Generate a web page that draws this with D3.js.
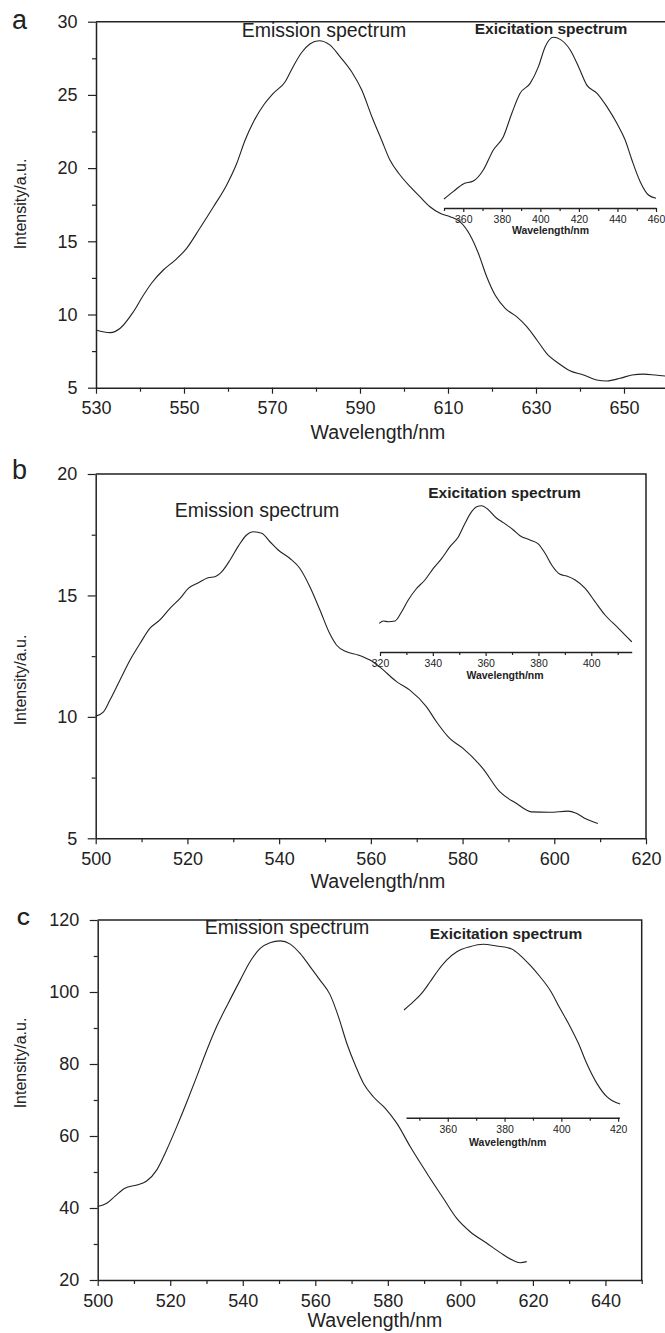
<!DOCTYPE html>
<html>
<head>
<meta charset="utf-8">
<script src="https://cdn.jsdelivr.net/npm/d3@7"></script>
<style>
  html, body { margin: 0; padding: 0; background: #fff; }
  svg { display: block; }
</style>
</head>
<body>
<script>
// Panel a: emission spectrum (nm, a.u.).
const emissionA_nm = [530, 533.2, 535.5, 538.5, 540.8, 542.7, 545.3, 548, 550.6, 553.6, 556.7, 559.7, 562, 563.9, 565.8, 568.1, 570.3, 573, 574.8, 576.7, 578.6, 580.7, 583.2, 585.5, 588.1, 590.4, 592.7, 594.9, 596.8, 599.1, 601.4, 603.6, 605.9, 608.2, 610.5, 612.7, 615, 616.9, 618.8, 620.7, 623, 625.6, 627.9, 630.2, 632.4, 635.1, 637.7, 640.8, 643.8, 646.1, 649.1, 651.8, 654.4, 657.1, 659.4];
const emissionA_int = [8.94, 8.76, 9.06, 10.19, 11.33, 12.17, 13.04, 13.72, 14.52, 15.89, 17.36, 18.85, 20.33, 21.92, 23.17, 24.31, 25.11, 25.9, 26.93, 27.88, 28.48, 28.7, 28.4, 27.6, 26.58, 25.33, 23.51, 21.92, 20.55, 19.53, 18.73, 18.05, 17.36, 16.91, 16.68, 16.34, 15.43, 14.18, 12.58, 11.33, 10.42, 9.85, 9.17, 8.26, 7.35, 6.67, 6.16, 5.87, 5.53, 5.46, 5.64, 5.87, 5.93, 5.87, 5.8];

// Panel a inset: excitation spectrum (nm, relative %).
const excitationA_nm = [350, 354.8, 360, 365.2, 370.4, 375.6, 380.8, 385.2, 389.5, 394.7, 399, 402.5, 406.8, 410.3, 415.5, 419.8, 424.1, 429.4, 434.5, 439.7, 444, 447.5, 451.8, 456.1, 460];
const excitationA_rel = [5.3, 9.6, 14.1, 15.8, 22.3, 34, 41.8, 55.5, 67.2, 73, 82.8, 94.5, 100, 98.8, 92.6, 82.8, 72, 67.2, 59.4, 49.6, 39.8, 28.1, 15.4, 7.6, 5.7];

// Panel b: emission spectrum.
const emissionB_nm = [500, 501.7, 503.1, 505.3, 507.5, 509.7, 511.8, 514, 516.2, 518.4, 520.2, 522.4, 524.5, 526, 527.5, 529.3, 531.1, 532.9, 534.3, 536.2, 538, 539.8, 542.3, 544.5, 546.7, 548.9, 551, 552.5, 554.7, 557.2, 559.8, 561.9, 565.6, 568.5, 572.1, 574.3, 577.2, 580.1, 584.4, 588.1, 591.7, 595, 599, 603, 604.8, 607, 609.5];
const emissionB_int = [10.03, 10.21, 10.69, 11.52, 12.34, 13.03, 13.64, 13.99, 14.47, 14.88, 15.29, 15.52, 15.73, 15.77, 15.98, 16.46, 17.03, 17.49, 17.62, 17.56, 17.21, 16.87, 16.53, 16.12, 15.36, 14.4, 13.44, 12.96, 12.68, 12.55, 12.34, 12.06, 11.45, 11.1, 10.42, 9.8, 9.11, 8.7, 7.88, 6.92, 6.44, 6.09, 6.07, 6.12, 6.03, 5.79, 5.61];

// Panel b inset: excitation spectrum.
const excitationB_nm = [319.7, 321.3, 323.1, 325.7, 328.2, 330.7, 333.6, 337, 340.2, 343.4, 346.5, 349.7, 352.2, 354.7, 356.6, 358.5, 360.4, 364.2, 366.7, 370.5, 373, 376.8, 380, 382.5, 385, 388.2, 390.7, 393.9, 397.7, 401.4, 405.2, 410.3, 415.3];
const excitationB_rel = [19.6, 21.2, 20.7, 21.2, 27.5, 35.5, 42.9, 49.2, 57.2, 64, 72, 78.8, 88, 95.9, 99.3, 100, 98.2, 91.4, 88.4, 83.4, 79.5, 76.6, 73.8, 67.5, 59.5, 53.1, 51.9, 49.2, 43.5, 34.4, 25.3, 16.2, 7];

// Panel c: emission spectrum.
const emissionC_nm = [500, 502.5, 504.8, 507.5, 510.8, 513.5, 516.3, 519, 521.8, 524.6, 527.3, 530.1, 532.8, 536, 539.3, 542, 544.8, 547.5, 550.3, 553.1, 555.8, 558.6, 561.3, 564.1, 566.4, 568.7, 571, 573.3, 576, 579.3, 582.5, 586.2, 590.8, 595.3, 599, 602.7, 607.3, 611, 614.2, 616.5, 618.3];
const emissionC_int = [40.4, 41.3, 43.3, 45.5, 46.4, 47.5, 50.6, 56.1, 62.6, 69.5, 76.5, 83.9, 90.4, 96.9, 103.3, 108.4, 112.1, 113.7, 114.2, 113.3, 110.7, 107, 103.3, 99.2, 93.1, 85.7, 79.7, 74.6, 70.9, 67.7, 63.5, 57, 49.6, 42.7, 37.1, 33.4, 30.2, 27.6, 25.6, 24.8, 25.1];

// Panel c inset: excitation spectrum.
const excitationC_nm = [344.6, 347.9, 350.8, 353.8, 356.7, 359.6, 363.2, 367.8, 372.5, 377.2, 382.5, 385.4, 388.9, 392.5, 396, 399.5, 403.1, 406, 408.9, 412.5, 416, 420.7];
const excitationC_rel = [62.1, 66.9, 71.7, 78.4, 85.2, 90.9, 95.7, 98.6, 100, 99, 97.3, 93.8, 88.1, 81.3, 73.6, 63.1, 52.5, 42.9, 31.4, 19.8, 12.1, 7.9];

// Tick values.
const ticksA_x = [530, 550, 570, 590, 610, 630, 650];
const minorA_x = [540, 560, 580, 600, 620, 640, 660];
const ticksA_y = [5, 10, 15, 20, 25, 30];
const minorA_y = [7.5, 12.5, 17.5, 22.5, 27.5];
const ticksA_inset = [360, 380, 400, 420, 440, 460];
const minorA_inset = [350, 370, 390, 410, 430, 450];

const ticksB_x = [500, 520, 540, 560, 580, 600, 620];
const minorB_x = [510, 530, 550, 570, 590, 610];
const ticksB_y = [5, 10, 15, 20];
const minorB_y = [7.5, 12.5, 17.5];
const ticksB_inset = [320, 340, 360, 380, 400];
const minorB_inset = [330, 350, 370, 390, 410];

const ticksC_x = [500, 520, 540, 560, 580, 600, 620, 640];
const minorC_x = [510, 530, 550, 570, 590, 610, 630, 650];
const ticksC_y = [20, 40, 60, 80, 100, 120];
const minorC_y = [30, 50, 70, 90, 110];
const ticksC_inset = [360, 380, 400, 420];
const minorC_inset = [350, 370, 390, 410];

const Font = "'Liberation Sans', Arial, Helvetica, sans-serif";
const Ink = "#222";

const svg = d3.select("body").append("svg")
    .attr("width", 665)
    .attr("height", 1333)
    .style("font-family", Font);

const line = d3.line().curve(d3.curveMonotoneX);

// Style an axis group: lines, domain, text.
const styleAxis = function (g, fontSize, weight) {
    g.select(".domain").attr("stroke", Ink).attr("stroke-width", 1.5);
    g.selectAll(".tick line").attr("stroke", Ink).attr("stroke-width", 1.2);
    g.selectAll(".tick text")
        .attr("fill", Ink)
        .style("font-family", Font)
        .style("font-size", fontSize + "px")
        .style("font-weight", weight || "normal");
};

const addText = function (txt, x, y, size, opts) {
    opts = opts || {};
    const t = svg.append("text")
        .attr("x", x).attr("y", y)
        .attr("fill", Ink)
        .attr("text-anchor", opts.anchor || "middle")
        .style("font-size", size + "px")
        .style("font-weight", opts.weight || "normal")
        .text(txt);
    if (opts.rotate) {
        t.attr("transform", `rotate(-90,${x},${y})`).attr("dy", "0.35em");
    }
    return t;
};

const drawPanel = function (p) {
    const x = d3.scaleLinear().domain(p.xDomain).range([p.left, p.right]);
    const y = d3.scaleLinear().domain(p.yDomain).range([p.bottom, p.top]);
    const g = svg.append("g");

    // Top and right frame.
    g.append("path")
        .attr("fill", "none")
        .attr("stroke", Ink)
        .attr("stroke-width", 1.5)
        .attr("d", `M${p.left},${p.top}H${p.right}V${p.bottom}`);

    // Minor ticks.
    g.append("g").attr("transform", `translate(0,${p.bottom})`)
        .call(d3.axisBottom(x).tickValues(p.xMinor).tickSize(4).tickFormat(""))
        .call(a => { a.select(".domain").remove(); styleAxis(a, 18); });
    g.append("g").attr("transform", `translate(${p.left},0)`)
        .call(d3.axisLeft(y).tickValues(p.yMinor).tickSize(4).tickFormat(""))
        .call(a => { a.select(".domain").remove(); styleAxis(a, 18); });

    // Major axes.
    g.append("g").attr("transform", `translate(0,${p.bottom})`)
        .call(d3.axisBottom(x).tickValues(p.xTicks).tickSize(6).tickSizeOuter(0).tickPadding(8))
        .call(a => styleAxis(a, 18));
    g.append("g").attr("transform", `translate(${p.left},0)`)
        .call(d3.axisLeft(y).tickValues(p.yTicks).tickSize(8).tickSizeOuter(0).tickPadding(10.5))
        .call(a => styleAxis(a, 18));

    // Emission curve.
    g.append("path")
        .attr("fill", "none")
        .attr("stroke", Ink)
        .attr("stroke-width", 1.1)
        .attr("d", line(p.nm.map((d, i) => [x(d), y(p.val[i])])));

    // Inset: excitation spectrum.
    const q = p.inset;
    const ix = d3.scaleLinear().domain(q.xDomain).range([q.left, q.right]);
    const iy = d3.scaleLinear().domain([0, 100]).range([q.axisY, q.peakY]);

    g.append("g").attr("transform", `translate(0,${q.axisY})`)
        .call(d3.axisBottom(ix).tickValues(q.minor).tickSize(3).tickFormat(""))
        .call(a => { a.select(".domain").remove(); styleAxis(a, 10.5); });
    g.append("g").attr("transform", `translate(0,${q.axisY})`)
        .call(d3.axisBottom(ix).tickValues(q.ticks).tickSize(4).tickSizeOuter(0).tickPadding(4))
        .call(a => styleAxis(a, 10.5));

    g.append("path")
        .attr("fill", "none")
        .attr("stroke", Ink)
        .attr("stroke-width", 1.1)
        .attr("d", line(q.nm.map((d, i) => [ix(d), iy(q.val[i])])));

    // Labels.
    addText(p.letter, p.letterX, p.letterY, p.letterSize, { anchor: "start", weight: p.letterWeight });
    addText("Emission spectrum", p.emX, p.emY, 19.5);
    addText("Wavelength/nm", p.xTitleX, p.bottom + p.xTitleDy, 19.5);
    addText("Intensity/a.u.", 20, p.yTitleY, 16, { rotate: true });
    addText("Exicitation spectrum", q.titleX, q.titleY, 15.5, { weight: "bold" });
    addText("Wavelength/nm", q.xTitleX, q.axisY + q.xTitleDy, 10.5, { weight: "bold" });
};

drawPanel({
    letter: "a", letterX: 12, letterY: 29, letterSize: 27,
    xDomain: [530, 660], yDomain: [5, 30],
    left: 96, right: 668, top: 21.7, bottom: 387.7,
    xTicks: ticksA_x, xMinor: minorA_x, yTicks: ticksA_y, yMinor: minorA_y,
    nm: emissionA_nm, val: emissionA_int,
    emX: 324, emY: 37, xTitleX: 378, xTitleDy: 51, yTitleY: 204,
    inset: {
        xDomain: [350, 460], left: 444, right: 656, axisY: 208, peakY: 37.3,
        ticks: ticksA_inset, minor: minorA_inset,
        nm: excitationA_nm, val: excitationA_rel,
        titleX: 551, titleY: 34, xTitleX: 550.5, xTitleDy: 26
    }
});

drawPanel({
    letter: "b", letterX: 12, letterY: 479, letterSize: 27,
    xDomain: [500, 620], yDomain: [5, 20],
    left: 95.7, right: 646, top: 474, bottom: 838.3,
    xTicks: ticksB_x, xMinor: minorB_x, yTicks: ticksB_y, yMinor: minorB_y,
    nm: emissionB_nm, val: emissionB_int,
    emX: 257, emY: 517, xTitleX: 378, xTitleDy: 50, yTitleY: 680,
    inset: {
        xDomain: [320, 415.3], left: 380, right: 631.7, axisY: 652, peakY: 505.7,
        ticks: ticksB_inset, minor: minorB_inset,
        nm: excitationB_nm, val: excitationB_rel,
        titleX: 504.5, titleY: 498, xTitleX: 505, xTitleDy: 27
    }
});

drawPanel({
    letter: "C", letterX: 17, letterY: 925, letterSize: 18, letterWeight: "bold",
    xDomain: [500, 650], yDomain: [20, 120],
    left: 97.7, right: 641.7, top: 920, bottom: 1280,
    xTicks: ticksC_x, xMinor: minorC_x, yTicks: ticksC_y, yMinor: minorC_y,
    nm: emissionC_nm, val: emissionC_int,
    emX: 287, emY: 934, xTitleX: 375, xTitleDy: 47, yTitleY: 1063,
    inset: {
        xDomain: [345.3, 420.4], left: 406, right: 619.3, axisY: 1117.7, peakY: 944.3,
        ticks: ticksC_inset, minor: minorC_inset,
        nm: excitationC_nm, val: excitationC_rel,
        titleX: 506, titleY: 939, xTitleX: 507.7, xTitleDy: 28
    }
});
</script>
</body>
</html>
